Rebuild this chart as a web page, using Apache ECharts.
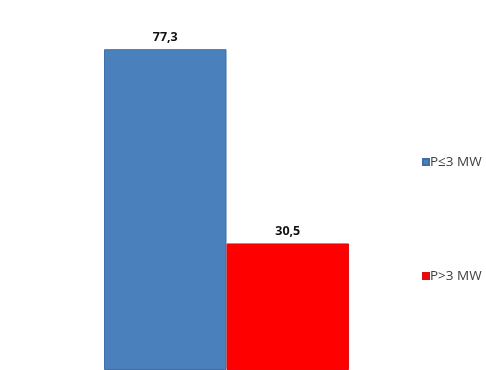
<!DOCTYPE html>
<html>
<head>
<meta charset="utf-8">
<script src="https://cdn.jsdelivr.net/npm/echarts@6/dist/echarts.min.js"></script>
<style>
  html, body { margin: 0; padding: 0; background: #ffffff; }
  #chart { width: 486px; height: 370px; }
</style>
</head>
<body>
<div id="chart"></div>
<script>
// Power classes and their values
const categories = ['Potenza'];
const seriesNames = ['P\u22643 MW', 'P>3 MW'];
const smallPlant = [77.3];
const largePlant = [30.5];

const fontFamily = '"Open Sans", "Noto Sans", sans-serif';
const fmt = p => String(p.value).replace('.', ',');

const legendText = { fontFamily, fontSize: 13.5, color: '#404040', padding: [0, 0, 0, -4] };

const chart = echarts.init(document.getElementById('chart'), null, { renderer: 'canvas' });
chart.setOption({
  animation: false,
  backgroundColor: '#ffffff',
  grid: { left: 104, width: 245, top: 38, height: 334, containLabel: false },
  xAxis: {
    type: 'category',
    data: categories,
    axisLine: { show: false },
    axisTick: { show: false },
    axisLabel: { show: false }
  },
  yAxis: {
    type: 'value',
    min: 0,
    max: 80,
    show: false,
    splitLine: { show: false }
  },
  legend: [
    {
      data: [seriesNames[0]],
      left: 417, top: 150,
      icon: 'rect', itemWidth: 6, itemHeight: 6, itemGap: 4,
      textStyle: legendText
    },
    {
      data: [seriesNames[1]],
      left: 417, top: 264,
      icon: 'rect', itemWidth: 6, itemHeight: 6, itemGap: 4,
      textStyle: legendText
    }
  ],
  series: [
    {
      name: seriesNames[0],
      type: 'bar',
      data: smallPlant,
      barGap: '0%',
      barCategoryGap: '0%',
      itemStyle: { color: '#4a80bc', borderColor: '#3f6fa6', borderWidth: 1 },
      label: {
        show: true, position: 'top', distance: 5, formatter: fmt,
        fontFamily, fontSize: 12.5, fontWeight: 'bold', color: '#111111'
      }
    },
    {
      name: seriesNames[1],
      type: 'bar',
      data: largePlant,
      barGap: '0%',
      barCategoryGap: '0%',
      itemStyle: { color: '#ff0000', borderColor: '#d81010', borderWidth: 1 },
      label: {
        show: true, position: 'top', distance: 5, formatter: fmt,
        fontFamily, fontSize: 12.5, fontWeight: 'bold', color: '#111111'
      }
    }
  ]
});
</script>
</body>
</html>
